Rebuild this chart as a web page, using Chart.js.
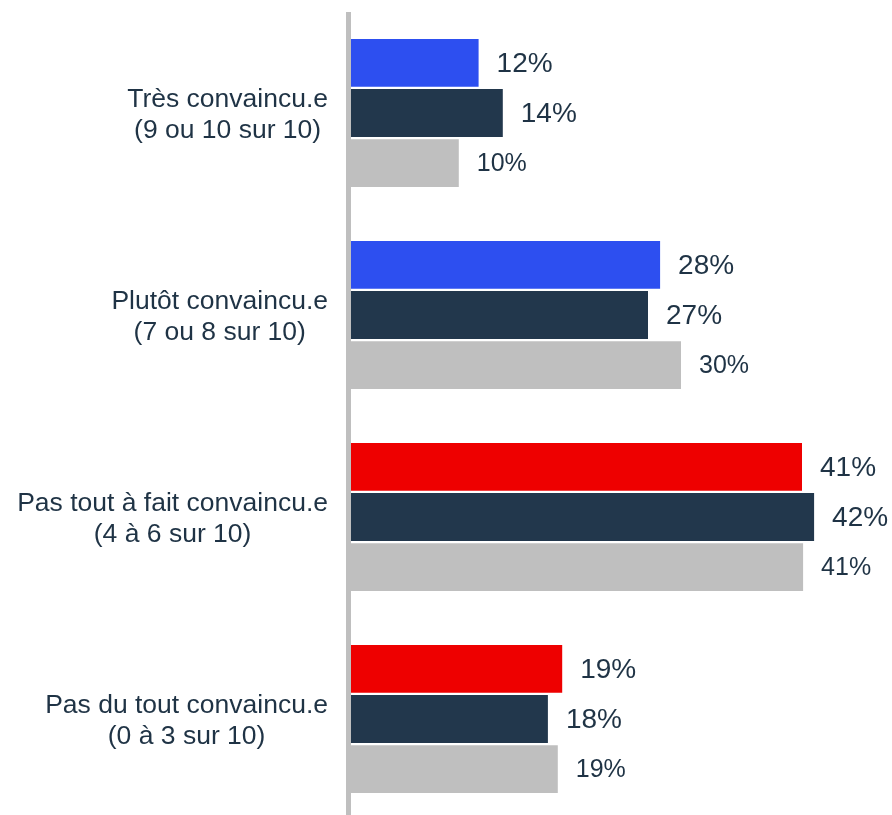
<!DOCTYPE html>
<html>
<head>
<meta charset="utf-8">
<script src="https://cdn.jsdelivr.net/npm/chart.js@4.4.0/dist/chart.umd.min.js"></script>
<style>
  html, body { margin: 0; padding: 0; background: #ffffff; overflow: hidden; }
  #wrap { position: relative; width: 892px; height: 820px; }
</style>
</head>
<body>
<div id="wrap"><canvas id="c"></canvas></div>
<script>
const categories = [
  ["Très convaincu.e", "(9 ou 10 sur 10)"],
  ["Plutôt convaincu.e", "(7 ou 8 sur 10)"],
  ["Pas tout à fait convaincu.e", "(4 à 6 sur 10)"],
  ["Pas du tout convaincu.e", "(0 à 3 sur 10)"]
];
const series1 = [11.6, 28.1, 41.0, 19.2];
const series2 = [13.8, 27.0, 42.1, 17.9];
const series3 = [9.8, 30.0, 41.1, 18.8];
const series1Colors = ["#2d4ff0", "#2d4ff0", "#ee0000", "#ee0000"];
const series2Color = "#22374c";
const series3Color = "#bfbfbf";
const textColor = "#1f3345";
const FONT = "'Liberation Sans', Arial, sans-serif";

const axisLinePlugin = {
  id: 'axisLine',
  beforeDatasetsDraw(chart) {
    const ctx = chart.ctx, a = chart.chartArea;
    ctx.save();
    ctx.fillStyle = "#bfbfbf";
    ctx.fillRect(a.left - 5, a.top, 5, chart.height - a.top);
    ctx.restore();
  }
};

const catLabelPlugin = {
  id: 'catLabels',
  afterDraw(chart) {
    const ctx = chart.ctx, y = chart.scales.y;
    ctx.save();
    ctx.font = "26.5px " + FONT;
    ctx.fillStyle = textColor;
    ctx.textAlign = "center";
    ctx.textBaseline = "alphabetic";
    const right = 328;
    categories.forEach((lines, i) => {
      const cy = y.getPixelForValue(i);
      const maxW = Math.max(...lines.map(l => ctx.measureText(l).width));
      const cx = right - maxW / 2;
      ctx.fillText(lines[0], cx, cy - 6.3);
      ctx.fillText(lines[1], cx, cy + 25.3);
    });
    ctx.restore();
  }
};

const valueLabelPlugin = {
  id: 'valueLabels',
  afterDatasetsDraw(chart) {
    const ctx = chart.ctx;
    ctx.save();
    ctx.fillStyle = textColor;
    ctx.textAlign = "left";
    ctx.textBaseline = "middle";
    chart.data.datasets.forEach((ds, di) => {
      const meta = chart.getDatasetMeta(di);
      ctx.font = (di === 2 ? "25px " : "28px ") + FONT;
      meta.data.forEach((bar, i) => {
        ctx.fillText(Math.round(ds.data[i]) + "%", bar.x + 18, bar.y + 1.5);
      });
    });
    ctx.restore();
  }
};

new Chart(document.getElementById('c'), {
  type: 'bar',
  data: {
    labels: categories,
    datasets: [
      { data: series1, backgroundColor: series1Colors },
      { data: series2, backgroundColor: series2Color },
      { data: series3, backgroundColor: series3Color }
    ]
  },
  options: {
    indexAxis: 'y',
    responsive: true,
    maintainAspectRatio: false,
    animation: false,
    datasets: { bar: { categoryPercentage: 0.743, barPercentage: 0.955 } },
    layout: { padding: { top: 12, bottom: 0, right: 13, left: 0 } },
    plugins: { legend: { display: false }, tooltip: { enabled: false } },
    scales: {
      x: { display: false, min: 0, max: 48 },
      y: {
        grid: { display: false },
        border: { display: false },
        ticks: { display: false },
        afterFit(scale) { scale.width = 351; }
      }
    }
  },
  plugins: [axisLinePlugin, catLabelPlugin, valueLabelPlugin]
});
</script>
</body>
</html>
